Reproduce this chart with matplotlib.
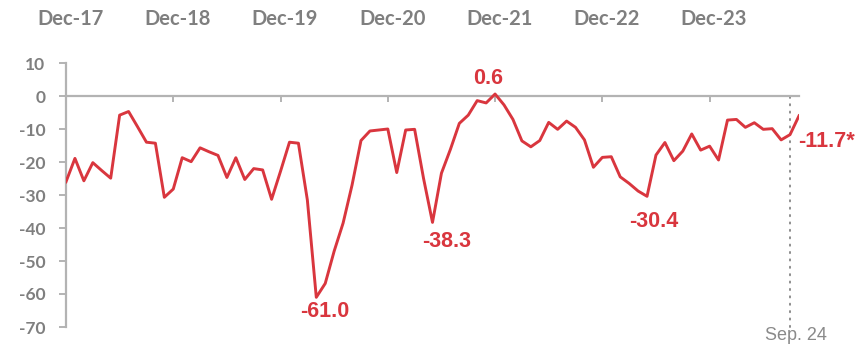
import matplotlib
matplotlib.use("Agg")
import matplotlib.pyplot as plt
import matplotlib.transforms as mtransforms
import pandas as pd

# Monthly balance series, Dec-2017 .. Oct-2024
start_month = "2017-12"
values = [
    -26.0, -18.9, -25.7, -20.2, -22.6, -24.9, -5.8, -4.7, -9.3, -14.0,
    -14.3, -30.7, -28.2, -18.7, -19.9, -15.7, -16.9, -18.0, -24.7, -18.7,
    -25.3, -22.0, -22.4, -31.3, -22.8, -14.0, -14.3, -31.5, -61.0, -56.8,
    -47.0, -38.5, -27.0, -13.5, -10.6, -10.3, -10.0, -23.2, -10.3, -10.1,
    -25.0, -38.3, -23.4, -16.2, -8.3, -5.8, -1.4, -2.1, 0.6, -2.7,
    -7.1, -13.6, -15.4, -13.5, -8.0, -10.1, -7.6, -9.5, -13.3, -21.6,
    -18.6, -18.4, -24.5, -26.5, -28.8, -30.4, -17.9, -14.1, -19.6, -16.7,
    -11.5, -16.4, -15.2, -19.4, -7.3, -7.1, -9.5, -8.1, -10.1, -9.9,
    -13.3, -11.7, -6.0,
]
months = list(pd.period_range(start_month, periods=len(values), freq="M").strftime("%b-%y"))

year_labels = ["Dec-17", "Dec-18", "Dec-19", "Dec-20", "Dec-21", "Dec-22", "Dec-23"]
y_ticks = [10, 0, -10, -20, -30, -40, -50, -60, -70]

# labelled points: month -> (text, offset in points, ha); text sits on its baseline
callouts = {
    "Apr-20": ("-61.0", (6, -14.5), "center"),
    "May-21": ("-38.3", (10.5, -17.7), "center"),
    "May-23": ("-30.4", (5, -21.8), "center"),
    "Dec-21": ("0.6", (-5, 7.2), "center"),
    "Sep-24": ("-11.7*", (5.8, -8.7), "left"),
}
marker_month = "Sep-24"
marker_label = "Sep. 24"

RED = "#d9363e"
GREY = "#7f7f7f"
AXIS = "#b3b3b3"

x = list(range(len(values)))

fig = plt.figure(figsize=(8.56, 3.48), dpi=100)
ax = fig.add_axes([66 / 856, 21 / 348, (799 - 66) / 856, (327 - 63) / 348])

ax.plot(x, values, color=RED, lw=2.1, solid_joinstyle="round", zorder=3)

ax.set_xlim(0, len(values) - 1)
ax.set_ylim(-70, 10)

# axes: left spine plus a zero line carrying the year ticks
for side in ("top", "right"):
    ax.spines[side].set_visible(False)
ax.spines["bottom"].set_position(("data", 0))
ax.spines["bottom"].set_color(AXIS)
ax.spines["bottom"].set_linewidth(1.6)
ax.spines["left"].set_color(AXIS)
ax.spines["left"].set_linewidth(1.6)

year_pos = [months.index(m) for m in year_labels]
ax.set_xticks(year_pos)
ax.set_xticklabels([])
ax.tick_params(axis="x", direction="out", length=4.5, width=1.4, color=AXIS)

ax.set_yticks(y_ticks)
ax.set_yticklabels([f"{t:d}" for t in y_ticks])
ax.tick_params(axis="y", direction="out", length=5, width=1.4, color=AXIS,
               pad=10, labelsize=12.5, labelcolor=GREY)
for lab in ax.get_yticklabels():
    lab.set_fontfamily("Lato")
    lab.set_fontweight("bold")

# year labels along the top
top_tr = mtransforms.blended_transform_factory(ax.transData, fig.transFigure)
for m in year_labels:
    ax.text(months.index(m) + 0.5, 1 - 19 / 348, m, transform=top_tr,
            ha="center", va="center", fontsize=14.5, fontweight="bold",
            family="Lato", color=GREY, clip_on=False)

# value callouts
for m, (txt, off, ha) in callouts.items():
    i = months.index(m)
    ax.annotate(txt, (i, values[i]), xytext=off, textcoords="offset points",
                ha=ha, va="baseline", fontsize=15.5, fontweight="bold",
                family="Liberation Sans", color=RED, annotation_clip=False)

# dotted marker for the latest reading
mi = months.index(marker_month)
ax.plot([mi, mi], [-70, 1], color="#8c8c8c", lw=1.4, ls=(0, (0.6, 3.2)),
        dash_capstyle="round", clip_on=False, zorder=2)
ax.text(mi + 0.7, -70, marker_label, ha="center", va="top", fontsize=13,
        family="Liberation Sans", color="#8a8a8a", clip_on=False)

fig.savefig("out.png", dpi=100)
